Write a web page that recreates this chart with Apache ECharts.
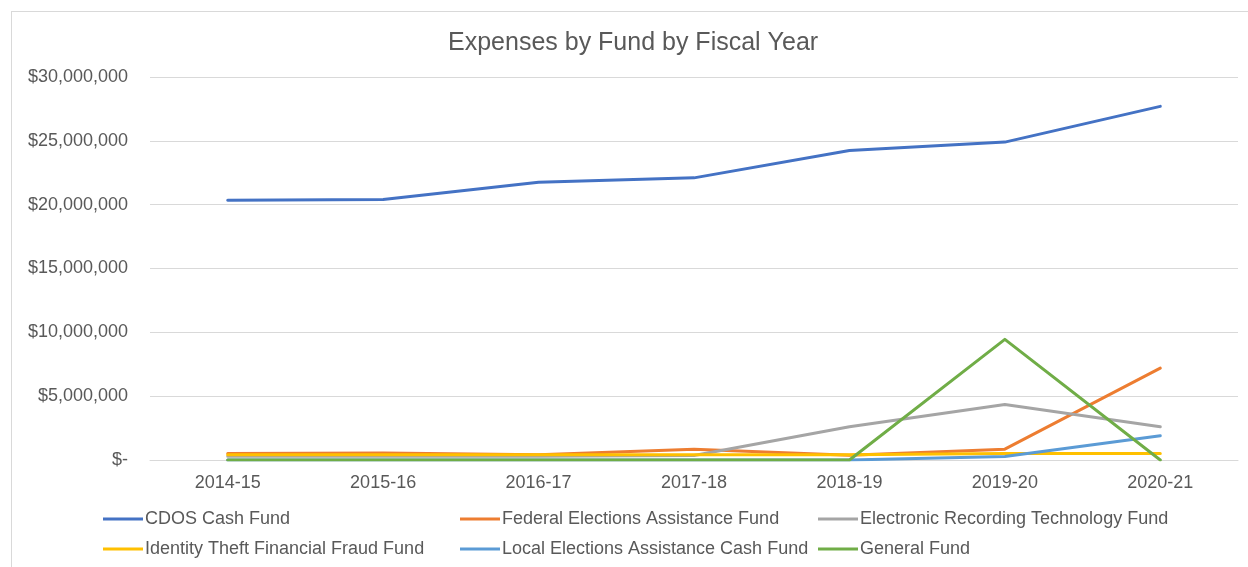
<!DOCTYPE html>
<html>
<head>
<meta charset="utf-8">
<script src="https://cdn.jsdelivr.net/npm/echarts@6/dist/echarts.min.js"></script>
<style>
html,body{margin:0;padding:0;background:#fff;width:1248px;height:567px;overflow:hidden;}
#frame{position:absolute;left:11px;top:11px;width:1300px;height:700px;border:1px solid #d9d9d9;box-sizing:border-box;}
#chart{position:absolute;left:0;top:0;width:1248px;height:567px;}
</style>
</head>
<body>
<div id="frame"></div>
<div id="chart"></div>
<script>
const categories = ['2014-15','2015-16','2016-17','2017-18','2018-19','2019-20','2020-21'];
const cdosCash = [20350000, 20400000, 21750000, 22100000, 24250000, 24900000, 27700000];
const federalElections = [500000, 550000, 420000, 850000, 380000, 850000, 7200000];
const electronicRecording = [300000, 300000, 300000, 350000, 2600000, 4350000, 2600000];
const identityTheft = [420000, 420000, 420000, 420000, 420000, 500000, 500000];
const localElections = [0, 0, 0, 0, 0, 270000, 1900000];
const generalFund = [0, 0, 0, 0, 0, 9450000, 0];
const seriesNames = ['CDOS Cash Fund','Federal Elections Assistance Fund','Electronic Recording Technology Fund','Identity Theft Financial Fraud Fund','Local Elections Assistance Cash Fund','General Fund'];
const yTicks = [0, 5000000, 10000000, 15000000, 20000000, 25000000, 30000000];

const colors = ['#4472C4','#ED7D31','#A5A5A5','#FFC000','#5B9BD5','#70AD47'];
const dataSets = [cdosCash, federalElections, electronicRecording, identityTheft, localElections, generalFund];

function fmt(v){
  if (v === 0) return '$-';
  return '$' + v.toString().replace(/\B(?=(\d{3})+(?!\d))/g, ',');
}

const font = 'Liberation Sans, Arial, sans-serif';
const legendCommon = {
  orient: 'vertical', top: 510, itemGap: 12, itemWidth: 40, itemHeight: 18, padding: 0,
  textStyle: {color: '#595959', fontSize: 18, fontFamily: font, padding:[0,0,0,-3], lineHeight: 18},
  icon: 'path://M0,7.5 L40,7.5 L40,10.5 L0,10.5 Z'
};

const chart = echarts.init(document.getElementById('chart'), null, {renderer:'canvas'});
chart.setOption({
  animation: false,
  color: colors,
  title: {
    text: 'Expenses by Fund by Fiscal Year', left: 448, top: 31, padding: 0,
    textStyle: {color: '#595959', fontSize: 25, fontWeight: 'normal', fontFamily: font}
  },
  legend: [
    Object.assign({}, legendCommon, {left: 103, data: [seriesNames[0], seriesNames[3]]}),
    Object.assign({}, legendCommon, {left: 460, data: [seriesNames[1], seriesNames[4]]}),
    Object.assign({}, legendCommon, {left: 818, data: [seriesNames[2], seriesNames[5]]})
  ],
  grid: {left: 150, right: 10, top: 77, bottom: 107, containLabel: false},
  xAxis: {
    type: 'category', data: categories, boundaryGap: true,
    axisLine: {show: true, lineStyle: {color: '#d9d9d9', width: 1}},
    axisTick: {show: false},
    axisLabel: {color: '#595959', fontSize: 18, fontFamily: font, margin: 14}
  },
  yAxis: {
    type: 'value', min: yTicks[0], max: yTicks[yTicks.length-1], interval: yTicks[1]-yTicks[0],
    axisLine: {show: false}, axisTick: {show: false},
    axisLabel: {color: '#595959', fontSize: 18, fontFamily: font, margin: 22, formatter: fmt},
    splitLine: {lineStyle: {color: '#d9d9d9', width: 1}}
  },
  series: seriesNames.map((n, i) => ({
    name: n, type: 'line', data: dataSets[i], symbol: 'none', smooth: false,
    lineStyle: {width: 3, color: colors[i], cap: 'round', join: 'round'},
    itemStyle: {color: colors[i]},
    z: 2 + i
  }))
});
</script>
</body>
</html>
